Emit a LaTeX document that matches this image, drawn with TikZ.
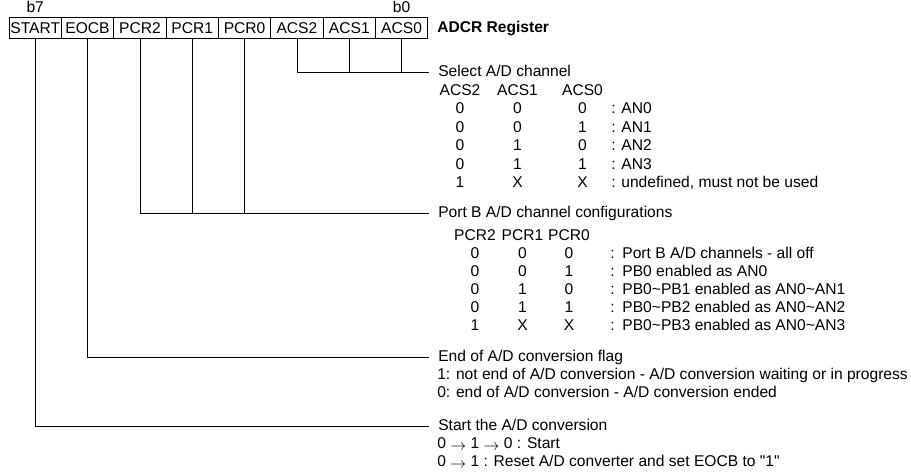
\documentclass[tikz,border=0pt]{standalone}
\usepackage{fontspec}
\setmainfont{Liberation Sans}[Ligatures=TeXOff]
\newcommand{\lowarrow}{\raisebox{-1.5pt}{$\rightarrow$}}
\begin{document}
\begin{tikzpicture}[x=0.75pt,y=-0.75pt,
	every node/.style={font=\fontsize{11.7}{14}\selectfont},
	bit/.style={draw,rectangle,line width=0.6pt,minimum width=39.26pt,minimum height=16pt,inner sep=0pt},
	head/.style={anchor=west,inner xsep=6.75pt,inner ysep=0pt,text height=8.6pt,text depth=2.4pt},
	txt/.style={anchor=west,inner sep=0pt,text height=8.6pt,text depth=2.4pt},
	val/.style={inner sep=0pt,text height=8.6pt,text depth=2.4pt},
	wire/.style={line width=0.6pt}]
	\useasboundingbox (0,0) rectangle (911,473);
	% register bits
	\node[bit] (START)at(35.2,28) {START};
	\node[bit] (EOCB)at(87.5,28) {EOCB};
	\node[bit] (PCR2)at(139.9,28) {PCR2};
	\node[bit] (PCR1)at(192.2,28) {PCR1};
	\node[bit] (PCR0)at(244.6,28) {PCR0};
	\node[bit] (ACS2)at(296.9,28) {ACS2};
	\node[bit] (ACS1)at(349.3,28) {ACS1};
	\node[bit] (ACS0)at(401.6,28) {ACS0};
	\node[val] (b7)at(35.2,8.5) {b7};
	\node[val] (b0)at(401.6,8.5) {b0};
	\node[txt] (reg)at(437,28) {\textbf{ADCR Register}};
	% select A/D channel
	\node[head] (sel)at(429,72) {Select A/D channel};
	\node[val] (a2)at(460,91) {ACS2};
	\node[val] (a1)at(517.5,91) {ACS1};
	\node[val] (a0)at(582.5,91) {ACS0};
	\node[val] (a21)at(460,109.5) {0};
	\node[val] (a11)at(517.5,109.5) {0};
	\node[val] (a01)at(582.5,109.5) {0};
	\node[txt] (an0)at(611,109.5) {: AN0};
	\node[val] (a22)at(460,128) {0};
	\node[val] (a12)at(517.5,128) {0};
	\node[val] (a02)at(582.5,128) {1};
	\node[txt] (an1)at(611,128) {: AN1};
	\node[val] (a23)at(460,146.5) {0};
	\node[val] (a13)at(517.5,146.5) {1};
	\node[val] (a03)at(582.5,146.5) {0};
	\node[txt] (an2)at(611,146.5) {: AN2};
	\node[val] (a24)at(460,165) {0};
	\node[val] (a14)at(517.5,165) {1};
	\node[val] (a04)at(582.5,165) {1};
	\node[txt] (an3)at(611,165) {: AN3};
	\node[val] (a25)at(460,183.5) {1};
	\node[val] (a15)at(517.5,183.5) {X};
	\node[val] (a05)at(582.5,183.5) {X};
	\node[txt] (undef)at(611,183.5) {: undefined, must not be used};
	% port B configuration
	\node[head] (port)at(429,213) {Port B A/D channel configurations};
	\node[val] (p2)at(475,236) {PCR2};
	\node[val] (p1)at(522.5,236) {PCR1};
	\node[val] (p0)at(569,236) {PCR0};
	\node[val] (p21)at(475,254) {0};
	\node[val] (p11)at(522.5,254) {0};
	\node[val] (p01)at(569,254) {0};
	\node[txt] (off)at(610,254) {:\enspace Port B A/D channels - all off};
	\node[val] (p22)at(475,272) {0};
	\node[val] (p12)at(522.5,272) {0};
	\node[val] (p02)at(569,272) {1};
	\node[txt] (pb0)at(610,272) {:\enspace PB0 enabled as AN0};
	\node[val] (p23)at(475,290) {0};
	\node[val] (p13)at(522.5,290) {1};
	\node[val] (p03)at(569,290) {0};
	\node[txt] (pb1)at(610,290) {:\enspace PB0\textasciitilde PB1 enabled as AN0\textasciitilde AN1};
	\node[val] (p24)at(475,308) {0};
	\node[val] (p14)at(522.5,308) {1};
	\node[val] (p04)at(569,308) {1};
	\node[txt] (pb2)at(610,308) {:\enspace PB0\textasciitilde PB2 enabled as AN0\textasciitilde AN2};
	\node[val] (p25)at(475,326) {1};
	\node[val] (p15)at(522.5,326) {X};
	\node[val] (p05)at(569,326) {X};
	\node[txt] (pb3)at(610,326) {:\enspace PB0\textasciitilde PB3 enabled as AN0\textasciitilde AN3};
	% end of conversion flag
	\node[head] (eoc)at(429,357) {End of A/D conversion flag};
	\node[txt] (eoc1)at(437,375) {1: not end of A/D conversion - A/D conversion waiting or in progress};
	\node[txt] (eoc0)at(437,393) {0: end of A/D conversion - A/D conversion ended};
	% start
	\node[head] (go)at(429,426) {Start the A/D conversion};
	\node[txt] (go1)at(437,444) {0 \lowarrow{} 1 \lowarrow{} 0 : Start};
	\node[txt] (go2)at(437,462) {0 \lowarrow{} 1 : Reset A/D converter and set EOCB to "1"};
	% connectors
	\draw[wire] (ACS2.south) |- (sel.west);
	\draw[wire] (ACS1.south) |- (sel.west);
	\draw[wire] (ACS0.south) |- (sel.west);
	\draw[wire] (PCR2.south) |- (port.west);
	\draw[wire] (PCR1.south) |- (port.west);
	\draw[wire] (PCR0.south) |- (port.west);
	\draw[wire] (EOCB.south) |- (eoc.west);
	\draw[wire] (START.south) |- (go.west);
\end{tikzpicture}
\end{document}
